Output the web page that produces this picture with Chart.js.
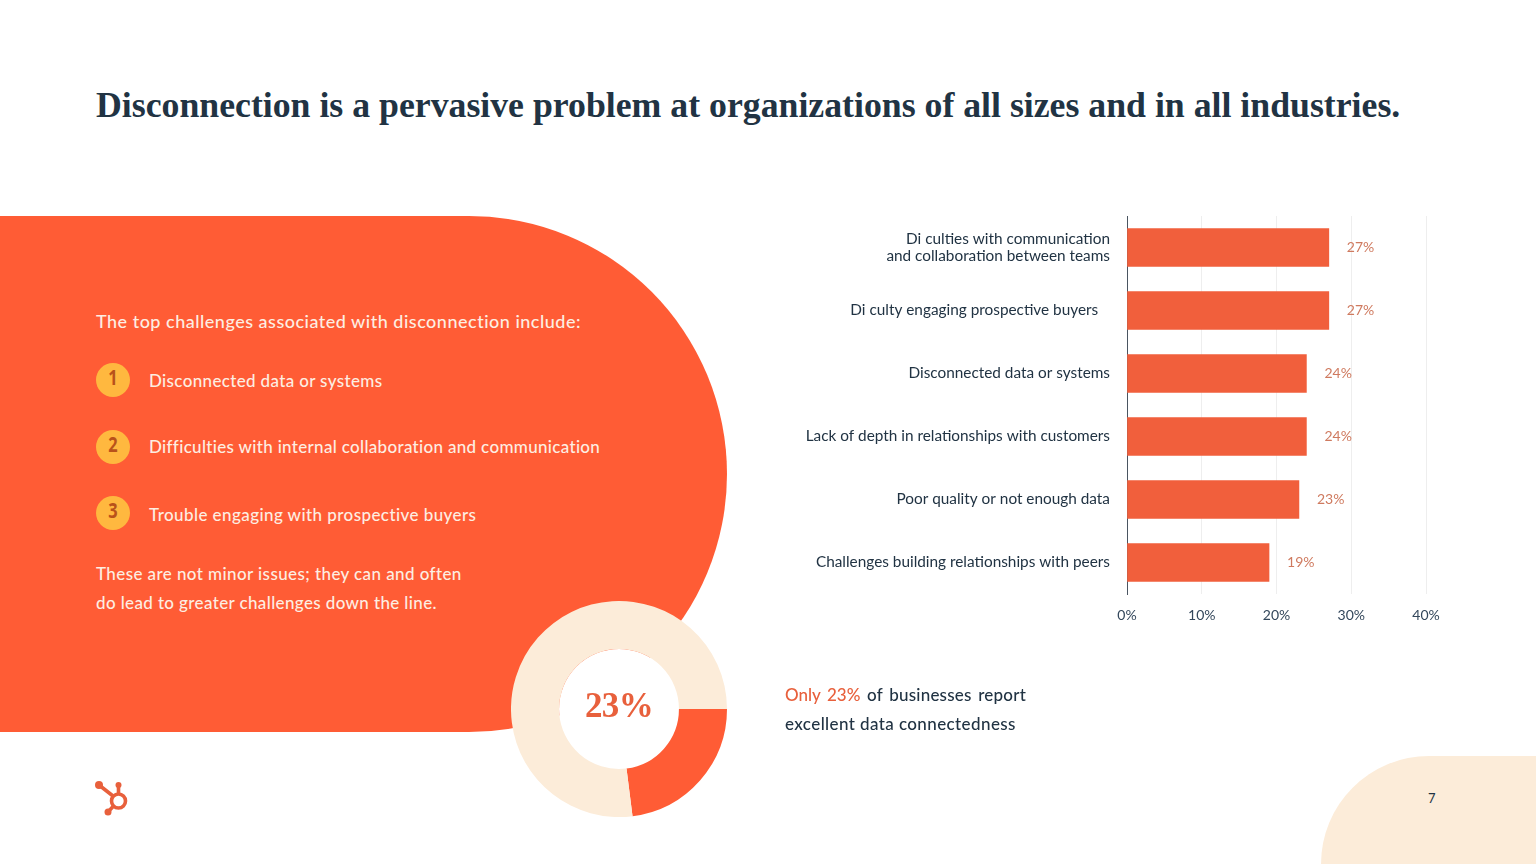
<!DOCTYPE html>
<html>
<head>
<meta charset="utf-8">
<title>Disconnection</title>
<script src="https://cdn.jsdelivr.net/npm/chart.js@4"></script>
<style>
html, body { margin: 0; padding: 0; background: #fff; }
#page { position: relative; width: 1536px; height: 864px; overflow: hidden; font-family: Lato, sans-serif; }
#page div, #page canvas, #page svg { position: absolute; }
.txt { white-space: pre; line-height: 1; }
#title { left: 96px; top: 84px; font: bold 35.75px "Liberation Serif", serif; color: #213343; white-space: pre; }
#blob { left: 0; top: 216px; width: 727px; height: 516px; background: #ff5c35; border-radius: 0 258px 258px 0; }
#corner { left: 1321px; top: 756px; width: 215px; height: 108px; background: #fcecd9; border-top-left-radius: 108px; }
.white { color: #fdeee2; font-size: 17px; font-weight: 500; letter-spacing: .32px; }
.badge { left: 96px; width: 34px; height: 34px; border-radius: 50%; background: #ffb83f; color: #b9521a; text-align: center;
  font: bold 21px/28px "Open Sans", sans-serif; }
.badge span { display: inline-block; transform: scaleX(.78); }
.dark { color: #213343; font-size: 17px; font-weight: 500; }
#barChart { left: 780px; top: 216px; }
#donutHole { left: 559px; top: 649px; width: 120px; height: 120px; border-radius: 50%; background: #fff; }
#donutChart { left: 511px; top: 601px; }
#donutLabel { left: 559px; top: 685px; width: 120px; text-align: center; font: bold 35px/1.2 "Liberation Serif", serif; letter-spacing: -.7px; color: #e8603c; }
</style>
</head>
<body>
<div id="page">
  <div id="title">Disconnection is a pervasive problem at organizations of all sizes and in all industries.</div>
  <div id="blob"></div>
  <div id="corner"></div>
  <div class="txt white" style="left:96px;top:312px;font-size:18px;letter-spacing:.5px">The top challenges associated with disconnection include:</div>
  <div class="badge" style="top:363px"><span>1</span></div>
  <div class="txt white" style="left:149px;top:372px;letter-spacing:.35px">Disconnected data or systems</div>
  <div class="badge" style="top:430px"><span>2</span></div>
  <div class="txt white" style="left:149px;top:438px">Difficulties with internal collaboration and communication</div>
  <div class="badge" style="top:496px"><span>3</span></div>
  <div class="txt white" style="left:149px;top:506px;letter-spacing:.42px">Trouble engaging with prospective buyers</div>
  <div class="txt white" style="left:96px;top:565px;letter-spacing:.41px">These are not minor issues; they can and often</div>
  <div class="txt white" style="left:96px;top:594px;letter-spacing:.37px">do lead to greater challenges down the line.</div>

  <canvas id="barChart" width="662" height="414"></canvas>
  <div id="donutHole"></div>
  <canvas id="donutChart" width="216" height="216"></canvas>
  <div id="donutLabel">23%</div>

  <div class="txt dark" style="left:785px;top:686px;letter-spacing:.2px;word-spacing:2.2px"><span style="color:#e8603c;letter-spacing:0">Only 23%</span> of businesses report</div>
  <div class="txt dark" style="left:785px;top:715px;letter-spacing:.4px">excellent data connectedness</div>

  <svg style="left:90px;top:776px" width="46" height="46" viewBox="90 776 46 46">
    <g fill="none" stroke="#e8603c" stroke-width="3.6">
      <circle cx="118.5" cy="801" r="7"></circle>
      <path d="M99 785 L113 796 M118.5 785 L118.5 794 M108 812 L113.5 806"></path>
    </g>
    <g fill="#e8603c">
      <circle cx="99" cy="785" r="4"></circle>
      <circle cx="118.5" cy="785" r="3"></circle>
      <circle cx="108" cy="812" r="3.5"></circle>
    </g>
  </svg>
  <div class="txt" style="left:1428px;top:792px;font-size:13px;color:#213343">7</div>
</div>

<script>
const categories = [
    ['Di culties with communication', 'and collaboration between teams'],
    'Di culty engaging prospective buyers   ',
    'Disconnected data or systems',
    'Lack of depth in relationships with customers',
    'Poor quality or not enough data',
    'Challenges building relationships with peers'
];
const challengeValues = [27, 27, 24, 24, 23, 19];
const tickValues = [0, 10, 20, 30, 40];
const donutLabels = ['Excellent', 'Other'];
const donutValues = [23, 77];

const labelFont = { family: 'Lato', size: 15.35, lineHeight: 1.11 };

// draws the 27% etc. next to each bar
const barValueLabels = {
    id: 'barValueLabels',
    afterDatasetsDraw: function (chart) {
        const ctx = chart.ctx;
        ctx.save();
        ctx.font = '14px Lato';
        ctx.fillStyle = '#cf7a5f';
        ctx.textBaseline = 'middle';
        chart.getDatasetMeta(0).data.forEach(function (bar, i) {
            ctx.fillText(challengeValues[i] + '%', bar.x + 18, bar.y);
        });
        ctx.restore();
    }
};

new Chart(document.getElementById('barChart'), {
    type: 'bar',
    data: {
        labels: categories,
        datasets: [{
            data: challengeValues,
            backgroundColor: '#f15f3c',
            barThickness: 38
        }]
    },
    options: {
        indexAxis: 'y',
        responsive: false,
        animation: false,
        layout: { padding: { right: 16 } },
        plugins: { legend: { display: false }, tooltip: { enabled: false } },
        scales: {
            x: {
                min: 0,
                max: 40,
                afterBuildTicks: function (axis) {
                    axis.ticks = tickValues.map(function (v) { return { value: v }; });
                },
                afterFit: function (axis) {
                    axis.height = 36;
                    axis.paddingLeft = 0;
                    axis.paddingRight = 0;
                },
                grid: { color: '#eeeeee', drawTicks: false },
                border: { display: false },
                ticks: {
                    padding: 13,
                    color: '#33475b',
                    font: { family: 'Lato', size: 14 },
                    callback: function (value) { return value + '%'; }
                }
            },
            y: {
                afterFit: function (axis) {
                    axis.width = 347;
                    axis.paddingTop = 0;
                    axis.paddingBottom = 0;
                },
                grid: { display: false },
                border: { color: '#4a5561', width: 1 },
                ticks: { padding: 9, color: '#213343', font: labelFont, autoSkip: false }
            }
        }
    },
    plugins: [barValueLabels]
});

new Chart(document.getElementById('donutChart'), {
    type: 'doughnut',
    data: {
        labels: donutLabels,
        datasets: [{
            data: donutValues,
            backgroundColor: ['#ff5c35', '#fcecd9'],
            borderWidth: 0
        }]
    },
    options: {
        responsive: false,
        animation: false,
        rotation: 90,
        cutout: '55.5%',
        plugins: { legend: { display: false }, tooltip: { enabled: false } }
    }
});
</script>
</body>
</html>
